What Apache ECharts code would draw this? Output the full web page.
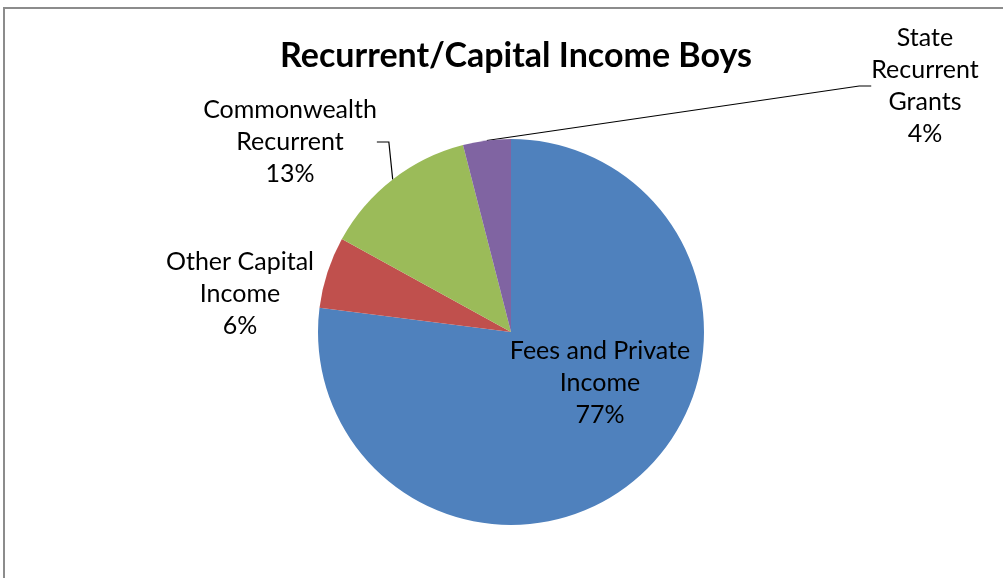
<!DOCTYPE html>
<html>
<head>
<meta charset="utf-8">
<script src="https://cdn.jsdelivr.net/npm/echarts@6/dist/echarts.min.js"></script>
<style>
html, body { margin: 0; padding: 0; background: #fff; }
#chart { width: 1003px; height: 578px; }
</style>
</head>
<body>
<div id="chart"></div>
<script>
// data
var categories = ['Fees and Private\nIncome', 'Other Capital\nIncome', 'Commonwealth\nRecurrent', 'State\nRecurrent\nGrants']
var shares = [77, 6, 13, 4]
var colors = ['#4F81BD', '#C0504D', '#9BBB59', '#8064A2']

// where Excel put each label (centre of the text block)
var labelSpots = [[600, 383], [240, 294], [290, 142], [925, 86]]

var myChart = echarts.init(document.getElementById('chart'))

var pieData = []
categories.forEach(function (name, i) {
    pieData.push({
        name: name,
        value: shares[i],
        itemStyle: { color: colors[i] },
        label: { position: i == 0 ? 'inside' : 'outside' },
        labelLine: { show: i >= 2 }
    })
})

myChart.setOption({
    animation: false,
    title: {
        text: 'Recurrent/Capital Income Boys',
        left: 511,
        top: 34,
        textAlign: 'center',
        textStyle: {
            fontFamily: 'Lato',
            fontWeight: 'bold',
            fontSize: 34,
            color: '#000'
        }
    },
    graphic: [{
        // chart area border (only top and left are in frame)
        type: 'rect',
        shape: { x: 4, y: 8, width: 1100, height: 700 },
        style: { fill: 'none', stroke: '#8c8c8c', lineWidth: 2 },
        silent: true
    }],
    series: [{
        type: 'pie',
        center: [511, 332],
        radius: 193,
        startAngle: 90,
        clockwise: true,
        data: pieData,
        label: {
            formatter: '{b}\n{d}%',
            fontFamily: 'Lato',
            fontSize: 25,
            lineHeight: 32,
            color: '#000',
            align: 'center'
        },
        labelLine: {
            lineStyle: { color: '#000', width: 1.2 },
            length: 10,
            length2: 12
        },
        labelLayout: function (p) {
            var s = labelSpots[p.dataIndex]
            return {
                x: s[0],
                y: s[1],
                align: 'center',
                verticalAlign: 'middle'
            }
        }
    }]
})
</script>
</body>
</html>
